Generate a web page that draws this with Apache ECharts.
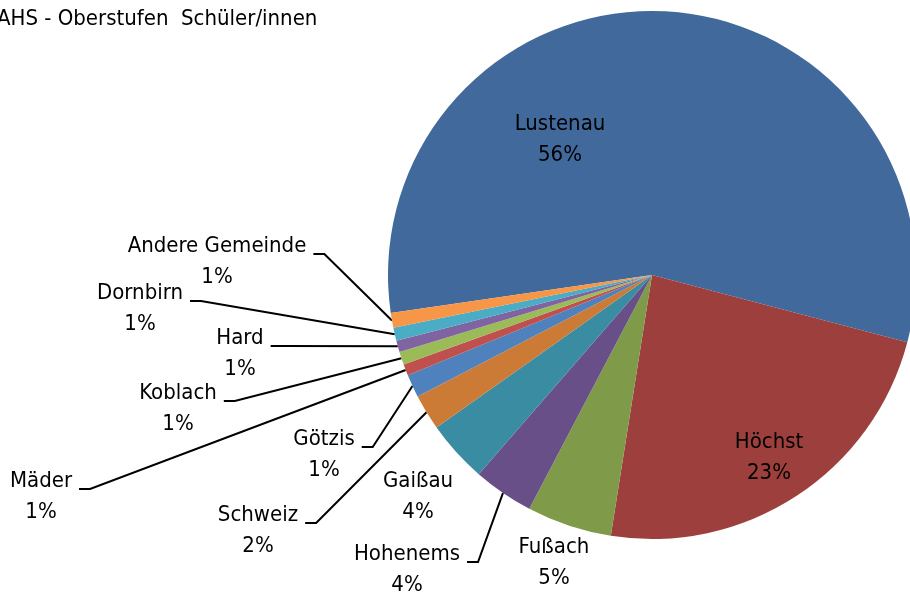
<!DOCTYPE html>
<html>
<head>
<meta charset="utf-8">
<title>AHS - Oberstufen Schüler/innen</title>
<script src="https://cdn.jsdelivr.net/npm/echarts@6/dist/echarts.min.js"></script>
<style>
    html, body { margin: 0; padding: 0; background: #ffffff; }
    #chart { width: 910px; height: 594px; }
</style>
</head>
<body>
<div id="chart"></div>
<script>
// Anteile der Schüler/innen nach Wohngemeinde (in %), im Uhrzeigersinn ab Lustenau
var gemeinden = ['Lustenau', 'Höchst', 'Fußach', 'Hohenems', 'Gaißau', 'Schweiz',
    'Götzis', 'Mäder', 'Koblach', 'Hard', 'Dornbirn', 'Andere Gemeinde'];
var anteile = [56.4, 23.4, 5.2, 3.7, 3.8, 2.2, 1.4, 0.7, 0.8, 0.7, 0.8, 0.9];

var farben = ['#41699b', '#9d403d', '#7f9a49', '#684f87', '#3a8ca2', '#cc7b37',
    '#4f81bd', '#c0504d', '#9bbb59', '#8064a2', '#4bacc6', '#f79646'];

// label placement (centre of the two-line label) and whether it gets a leader line
var labelPos = [[560, 140], [769, 458], [554, 563], [407, 570], [418, 497], [258, 531],
    [324, 455], [41, 497], [178, 409], [240, 354], [140, 309], [217, 262]];
var mitLinie = [false, false, false, true, false, true, true, true, true, true, true, true];

var schrift = "'Liberation Sans Narrow', 'Arial Narrow', 'DejaVu Sans Condensed', sans-serif";

// Excel meets the label with its leader line a bit above the middle,
// so labels with a line get an empty spacer line on top
var linieOben = 8;

var summe = 0;
for (var i = 0; i < anteile.length; i++) {
    summe += anteile[i];
}

var daten = [];
for (var i = 0; i < gemeinden.length; i++) {
    daten.push({
        name: gemeinden[i],
        value: anteile[i],
        itemStyle: { color: farben[i] },
        labelLine: { show: mitLinie[i] }
    });
}

var chart = echarts.init(document.getElementById('chart'));

var option = {
    animation: false,
    title: {
        text: 'AHS - Oberstufen  Schüler/innen',
        left: -8,
        top: 3,
        textStyle: {
            fontFamily: schrift,
            fontSize: 22,
            fontWeight: 'normal',
            color: '#000000'
        }
    },
    series: [{
        type: 'pie',
        center: [652, 275],
        radius: 264,
        startAngle: 188.3,
        clockwise: true,
        avoidLabelOverlap: false,
        data: daten,
        label: {
            show: true,
            position: 'outside',
            fontFamily: schrift,
            fontSize: 22,
            lineHeight: 31,
            color: '#000000',
            align: 'center',
            formatter: function (p) {
                var txt = '{t|' + p.name + '}\n{t|' + Math.round(p.value / summe * 100) + '%}';
                return mitLinie[p.dataIndex] ? '{gap| }\n' + txt : txt;
            },
            rich: {
                t: {
                    fontFamily: schrift, fontSize: 22, lineHeight: 31, color: '#000000',
                    align: 'center', padding: [0, 7, 0, 7]
                },
                gap: { fontSize: 1, lineHeight: linieOben * 2 }
            }
        },
        labelLine: {
            length: 10,
            length2: 11,
            minTurnAngle: 0,
            lineStyle: { color: '#000000', width: 2 }
        },
        labelLayout: function (params) {
            var i = params.dataIndex;
            var p = labelPos[i];
            return {
                x: p[0],
                y: mitLinie[i] ? p[1] - linieOben : p[1],
                align: 'center',
                verticalAlign: 'middle'
            };
        },
        emphasis: { disabled: true }
    }]
};

option && chart.setOption(option);
</script>
</body>
</html>
